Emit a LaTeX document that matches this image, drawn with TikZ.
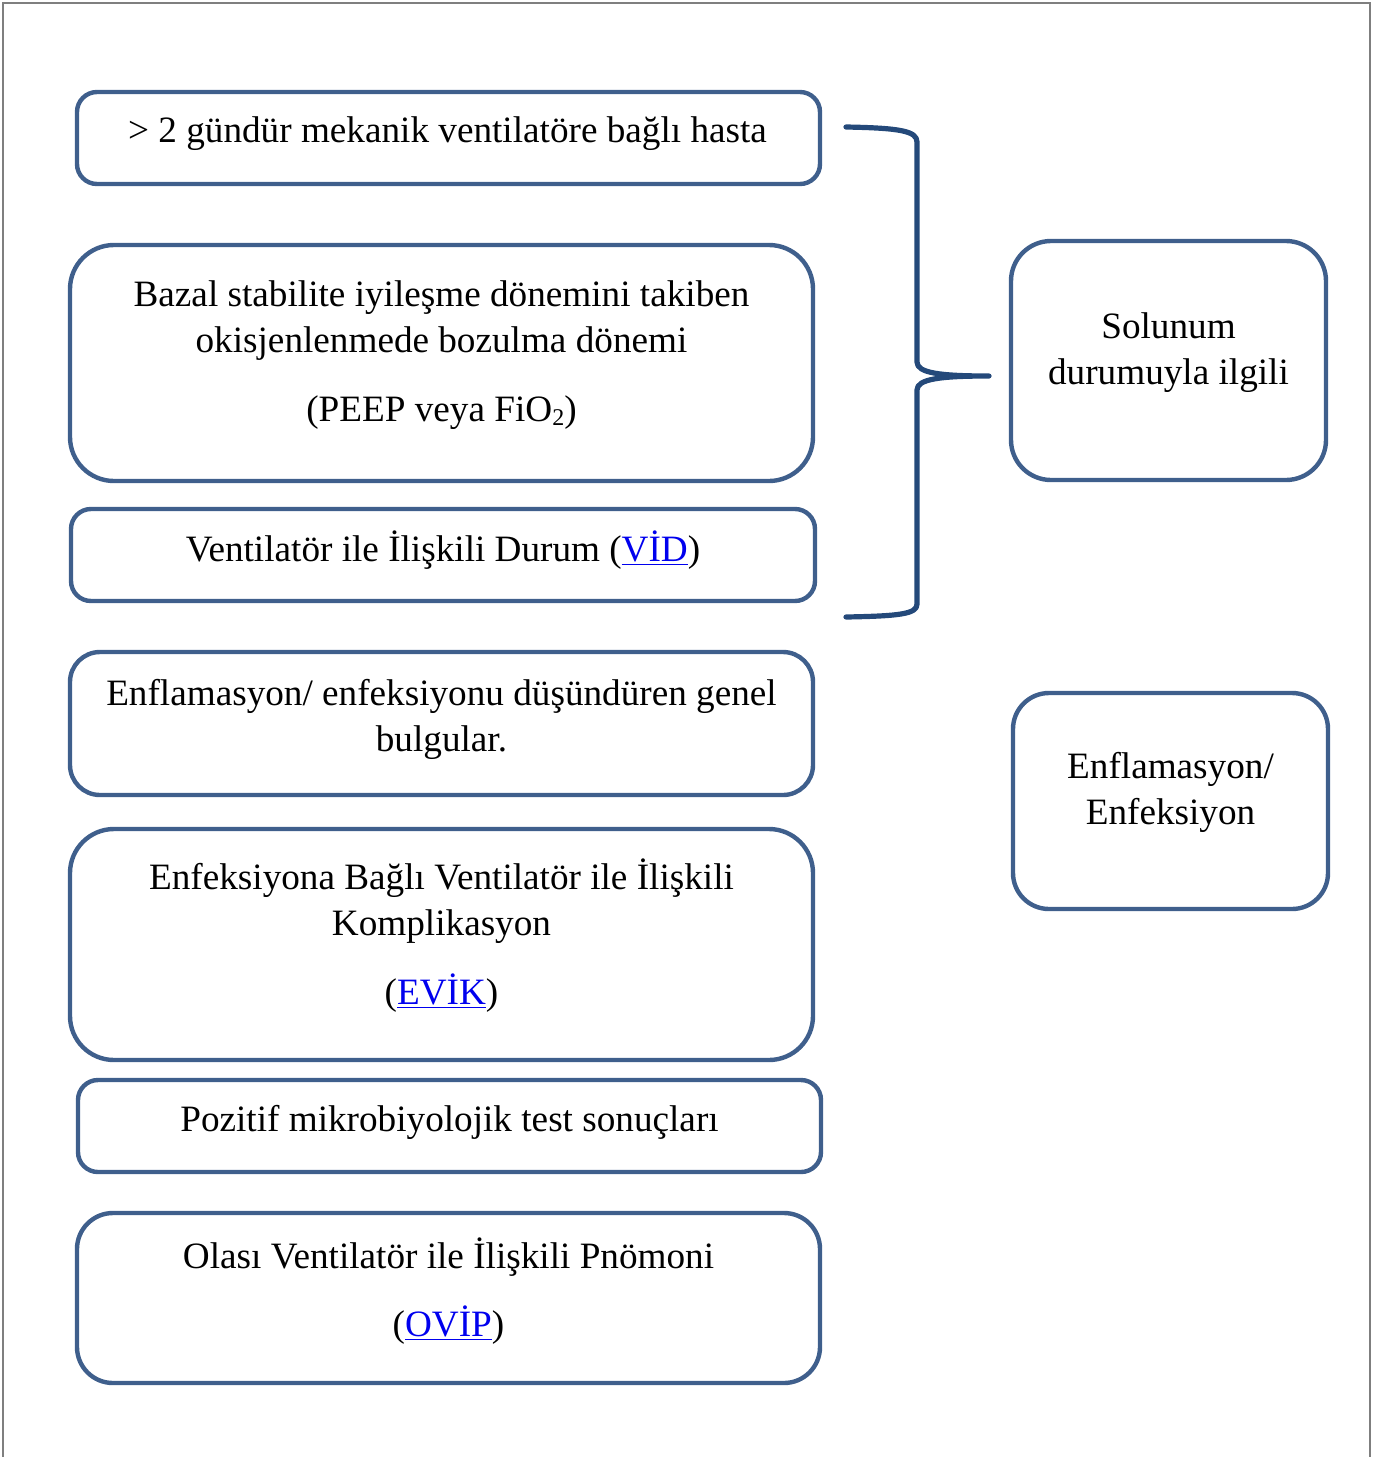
\documentclass[tikz,border=0pt]{standalone}
\usepackage{fontspec}
\setmainfont{Liberation Serif}
\usetikzlibrary{calc}
\definecolor{boxblue}{HTML}{3F5F8C}
\definecolor{bracecol}{HTML}{24497A}
\definecolor{framegray}{HTML}{7F7F7F}
\definecolor{linkblue}{HTML}{0000EE}
\newcommand{\lnk}[1]{\textcolor{linkblue}{\underline{#1}}}
\newcommand{\subtwo}{\raisebox{-0.25ex}{\fontsize{12}{12}\selectfont 2}}
\tikzset{
  box/.style n args={3}{draw=boxblue, line width=2.2pt, rounded corners=#3,
    minimum width=#1, minimum height=#2, inner sep=0pt},
  txt/.style={font=\fontsize{18.6}{23}\selectfont, align=center, inner sep=0pt},
  brace/.style={draw=bracecol, line width=2.6pt, line cap=round, line join=round},
  frame/.style={draw=framegray, line width=1pt}
}
\begin{document}
\begin{tikzpicture}[x=0.5pt,y=-0.5pt]
\useasboundingbox (0,0) rectangle (1384,1457);
\draw[frame] (3,1457) -- (3,3) -- (1370,3) -- (1370,1457);

% left column boxes
\node[box={371.5pt}{46pt}{10pt}] (b1) at (448.5,138) {};
\node[txt] (t1) at (447.5,133.5) {> 2 gündür mekanik ventilatöre bağlı hasta};

\node[box={371.5pt}{118pt}{22pt}] (b2) at (441.5,363) {};
\node[txt] (t2) at (441.5,355) {Bazal stabilite iyileşme dönemini takiben\\ okisjenlenmede bozulma dönemi\\[11.5pt] (PEEP veya FiO\subtwo)};

\node[box={372pt}{46pt}{10pt}] (b3) at (443,555) {};
\node[txt] (t3) at (443,550) {Ventilatör ile İlişkili Durum (\lnk{VİD})};

\node[box={371.5pt}{71.5pt}{15pt}] (b4) at (441.5,723.5) {};
\node[txt] (t4) at (441.5,719) {Enflamasyon/ enfeksiyonu düşündüren genel\\ bulgular.};

\node[box={371.5pt}{115.5pt}{22pt}] (b5) at (441.5,944.5) {};
\node[txt] (t5) at (441.5,935.5) {Enfeksiyona Bağlı Ventilatör ile İlişkili\\ Komplikasyon\\[11.5pt] (\lnk{EVİK})};

\node[box={371.5pt}{46pt}{10pt}] (b6) at (449.5,1126) {};
\node[txt] (t6) at (449.5,1122) {Pozitif mikrobiyolojik test sonuçları};

\node[box={371.5pt}{85pt}{18pt}] (b7) at (448.5,1298) {};
\node[txt] (t7) at (448.5,1291) {Olası Ventilatör ile İlişkili Pnömoni\\[11pt] (\lnk{OVİP})};

% right column boxes
\node[box={157.5pt}{119.5pt}{20pt}] (r1) at (1168.5,360.5) {};
\node[txt] (s1) at (1168.5,352.5) {Solunum\\ durumuyla ilgili};

\node[box={157.5pt}{108pt}{18pt}] (r2) at (1170.5,801) {};
\node[txt] (s2) at (1170.5,792.5) {Enflamasyon/\\ Enfeksiyon};

% brace
\coordinate (bt) at (846,127);
\coordinate (bb) at (846,617);
\coordinate (tip) at (989,376);
\draw[brace] (bt) .. controls (900,128) and (917,131) .. (917,142)
  -- (917,362) .. controls (917,373) and (940,376) .. (tip)
  .. controls (940,376) and (917,379) .. (917,390)
  -- (917,604) .. controls (917,614) and (900,616) .. (bb);
\end{tikzpicture}
\end{document}
